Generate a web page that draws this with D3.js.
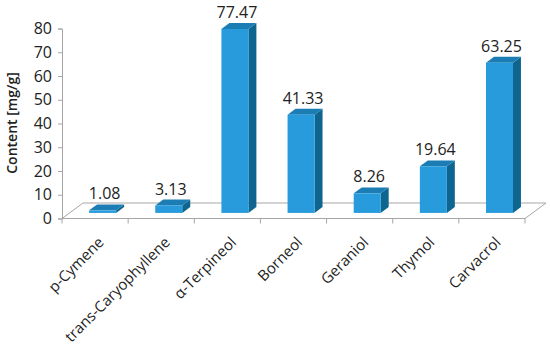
<!DOCTYPE html>
<html><head><meta charset="utf-8">
<script src="https://cdn.jsdelivr.net/npm/d3@7"></script>
<style>body{margin:0;background:#fff}svg{display:block}text{font-family:"Open Sans",sans-serif;fill:#222}</style>
</head><body><svg id="c" width="550" height="347"></svg>
<script>
const categories = ["p-Cymene","trans-Caryophyllene","α-Terpineol","Borneol","Geraniol","Thymol","Carvacrol"];
const values = [1.08,3.13,77.47,41.33,8.26,19.64,63.25];
const valueLabels = ["1.08","3.13","77.47","41.33","8.26","19.64","63.25"];
const yTicks = [0,10,20,30,40,50,60,70,80];
const yTitle = "Content [mg/g]";

const svg = d3.select("#c");
const X0 = 62, X1 = 525, YB = 218.5, YT = 28.5;
const DX = 21, DY = -15.5;
const f1 = 0.36, f2 = 0.74;
const x = d3.scaleBand().domain(categories).range([X0, X1]).paddingInner(0).paddingOuter(0);
const y = d3.scaleLinear().domain([0,80]).range([YB, YT]);
const grid = "#a6a6a6";

// floor
svg.append("path")
  .attr("d", `M${X0},${YB} L${X1},${YB} L${X1+DX},${YB+DY} L${X0+DX},${YB+DY} Z`)
  .attr("fill","none").attr("stroke",grid).attr("stroke-width",1);

// y axis
const yAxis = d3.axisLeft(y).tickValues(yTicks).tickSize(4).tickPadding(6);
const gy = svg.append("g").attr("transform",`translate(${X0},0)`).call(yAxis);
gy.select(".domain").attr("stroke",grid);
gy.selectAll(".tick line").attr("stroke",grid);
gy.selectAll(".tick text").attr("font-size",16).attr("fill","#222").attr("font-family","Open Sans");

// x axis ticks
const xAxis = d3.axisBottom(x).tickSize(5).tickFormat("");
const gx = svg.append("g").attr("transform",`translate(0,${YB})`).call(xAxis);
gx.select(".domain").remove();
gx.selectAll(".tick").remove();
const bounds = [...categories.map(c => x(c)), X1];
gx.selectAll("line.t").data(bounds).join("line")
  .attr("x1",d=>d).attr("x2",d=>d).attr("y1",0).attr("y2",5).attr("stroke",grid);

// x labels
svg.selectAll("text.xl").data(categories).join("text")
  .attr("class","xl")
  .attr("transform",d=>`translate(${x(d)+x.bandwidth()/2+6},${YB+21}) rotate(-45)`)
  .attr("text-anchor","end").attr("dy","0.35em").attr("font-size",15)
  .text(d=>d);

// bars
const bw = 27, odx1 = DX*f1, ody1 = DY*f1, odx2 = DX*f2, ody2 = DY*f2;
const bars = svg.append("g");
categories.forEach((c,i)=>{
  const cx = x(c)+x.bandwidth()/2 + odx1;
  const l = cx - bw/2, r = cx + bw/2;
  const yb = YB + ody1, yt = y(values[i]) + ody1;
  const ddx = odx2-odx1, ddy = ody2-ody1;
  const g = bars.append("g");
  g.append("path").attr("d",`M${r},${yb} L${r+ddx},${yb+ddy} L${r+ddx},${yt+ddy} L${r},${yt} Z`).attr("fill","#0e6690");
  g.append("path").attr("d",`M${l},${yt} L${r},${yt} L${r+ddx},${yt+ddy} L${l+ddx},${yt+ddy} Z`).attr("fill","#1b7db3");
  g.append("rect").attr("x",l).attr("y",yt).attr("width",bw).attr("height",Math.max(0,yb-yt)).attr("fill","#279bdb");
  svg.append("text").attr("x",cx+2).attr("y",yt+ddy-5).attr("text-anchor","middle").attr("font-size",16).text(valueLabels[i]);
});

// y title
svg.append("text").attr("transform",`translate(17,123) rotate(-90)`)
  .attr("text-anchor","middle").attr("font-size",14).attr("font-weight",600).text(yTitle);
</script></body></html>
